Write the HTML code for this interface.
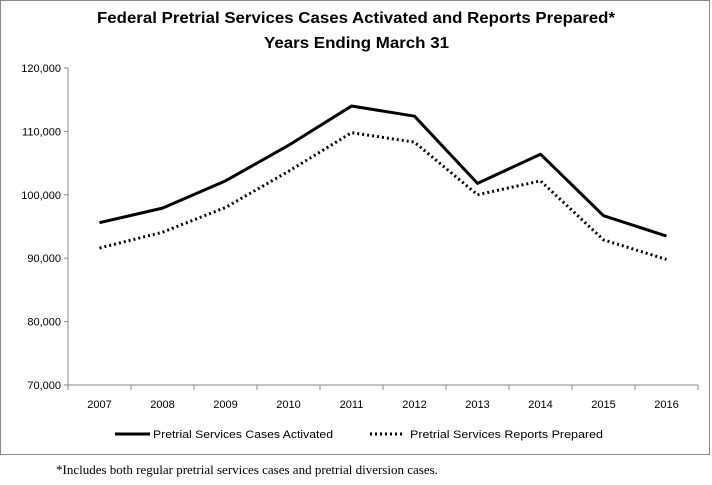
<!DOCTYPE html>
<html><head><meta charset="utf-8"><style>
body{margin:0;background:#fff;width:712px;height:480px;overflow:hidden}
svg text{font-family:"Liberation Sans",sans-serif}
</style></head><body>
<svg width="712" height="480">
<rect x="0.5" y="0.5" width="709" height="454" fill="#fff" stroke="#888"/>
<text x="97" y="23" textLength="518" lengthAdjust="spacingAndGlyphs" font-size="16" font-weight="bold">Federal Pretrial Services Cases Activated and Reports Prepared*</text>
<text x="264" y="48" textLength="185" lengthAdjust="spacingAndGlyphs" font-size="16" font-weight="bold">Years Ending March 31</text>
<g id="axes"></g>
<g id="series"></g>
<g>
<line x1="115" y1="434" x2="150" y2="434" stroke="#000" stroke-width="3"/>
<text x="153" y="438" font-size="11" textLength="180" lengthAdjust="spacingAndGlyphs">Pretrial Services Cases Activated</text>
<line x1="370" y1="434" x2="402" y2="434" stroke="#000" stroke-width="3" stroke-dasharray="2,3"/>
<text x="410" y="438" font-size="11" textLength="193" lengthAdjust="spacingAndGlyphs">Pretrial Services Reports Prepared</text>
</g>
<text x="56" y="474" font-size="13" style="font-family:'Liberation Serif',serif">*Includes both regular pretrial services cases and pretrial diversion cases.</text>
</svg>
<script>
const years=["2007","2008","2009","2010","2011","2012","2013","2014","2015","2016"];
const activated=[95600,97900,102200,107800,114000,112400,101800,106400,96700,93500];
const reports=[91600,94100,98000,103700,109800,108300,100000,102200,92900,89800];
const yTicks=[70000,80000,90000,100000,110000,120000];
const NS="http://www.w3.org/2000/svg";
const x0=68,x1=698,yTop=68,yBot=385,ymin=70000,ymax=120000;
const step=(x1-x0)/years.length;
const X=i=>x0+step*(i+0.5);
const Y=v=>yBot-(v-ymin)/(ymax-ymin)*(yBot-yTop);
function mk(t,a,p){const e=document.createElementNS(NS,t);for(const k in a)e.setAttribute(k,a[k]);p.appendChild(e);return e;}
const ax=document.getElementById('axes');
const ya=mk('line',{x1:x0,y1:yTop,x2:x0,y2:yBot,stroke:'#888'},ax);


const xa=mk('line',{x1:x0,y1:yBot,x2:x1,y2:yBot,stroke:'#888'},ax);


yTicks.forEach(v=>{
 mk('line',{x1:x0-4,y1:Y(v),x2:x0,y2:Y(v),stroke:'#888'},ax);
 const t=mk('text',{x:x0-7,y:Y(v)+4,'text-anchor':'end','font-size':11},ax);
 t.textContent=v.toLocaleString('en-US');
 
 
});
for(let i=0;i<=years.length;i++) mk('line',{x1:x0+step*i,y1:yBot,x2:x0+step*i,y2:yBot+5,stroke:'#888'},ax);
years.forEach((y,i)=>{
 const t=mk('text',{x:X(i),y:yBot+23,'text-anchor':'middle','font-size':11},ax);
 t.textContent=y;
 
 
});
const sg=document.getElementById('series');
const pts=a=>a.map((v,i)=>X(i)+','+Y(v)).join(' ');
const l1=mk('polyline',{points:pts(activated),fill:'none',stroke:'#000','stroke-width':3,'stroke-linejoin':'round'},sg);


const l2=mk('polyline',{points:pts(reports),fill:'none',stroke:'#000','stroke-width':3,'stroke-dasharray':'2,3'},sg);


</script>
</body></html>
